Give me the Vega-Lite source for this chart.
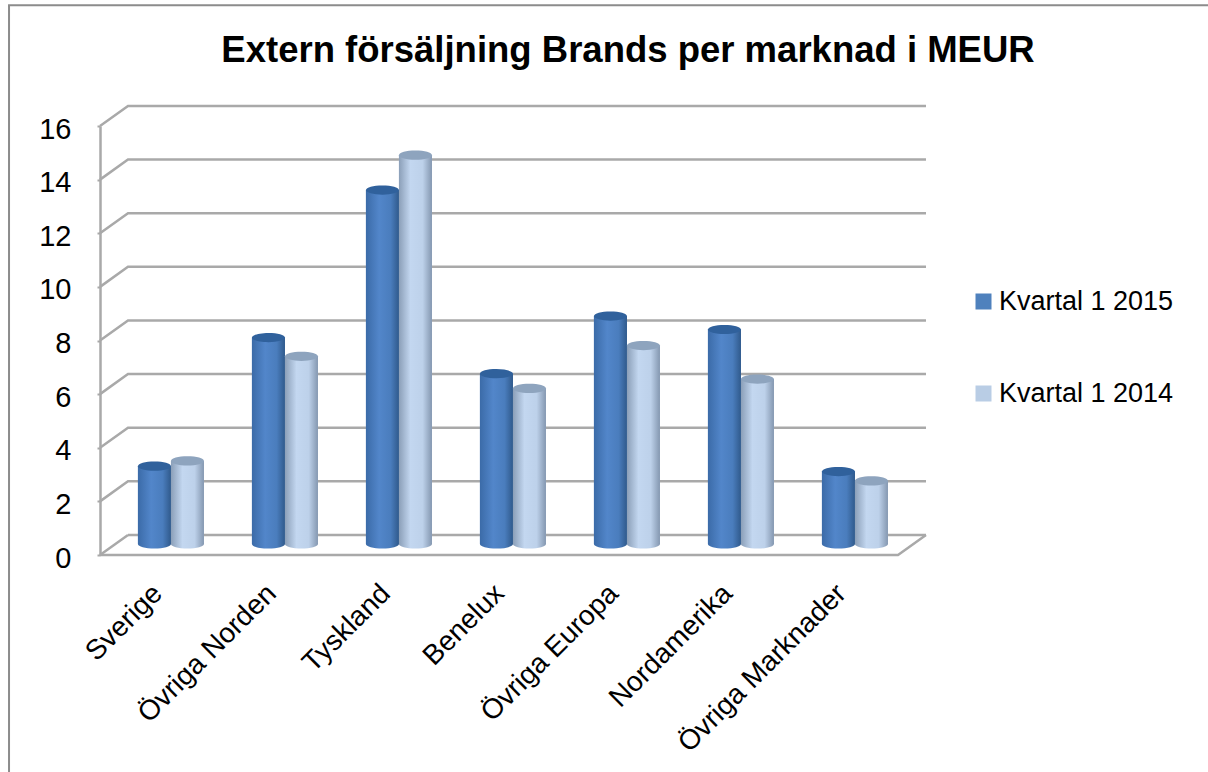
{
"$schema":"https://vega.github.io/schema/vega-lite/v6.json",
"width":1208,"height":772,"padding":0,"autosize":{"type":"none"},"background":"white",
"config":{"view":{"stroke":null},"font":"Liberation Sans"},
"title":{"text":"Extern försäljning Brands per marknad i MEUR","font":"Liberation Sans","fontSize":36.5,"fontWeight":"bold","color":"#000000","anchor":"middle","orient":"top","offset":-98,"dx":24,"baseline":"alphabetic","limit":1100},
"datasets":{
"sales":[
{"market":"Sverige","series":"Kvartal 1 2015","value":2.9},{"market":"Sverige","series":"Kvartal 1 2014","value":3.1},
{"market":"Övriga Norden","series":"Kvartal 1 2015","value":7.7},{"market":"Övriga Norden","series":"Kvartal 1 2014","value":7.0},
{"market":"Tyskland","series":"Kvartal 1 2015","value":13.2},{"market":"Tyskland","series":"Kvartal 1 2014","value":14.5},
{"market":"Benelux","series":"Kvartal 1 2015","value":6.35},{"market":"Benelux","series":"Kvartal 1 2014","value":5.8},
{"market":"Övriga Europa","series":"Kvartal 1 2015","value":8.5},{"market":"Övriga Europa","series":"Kvartal 1 2014","value":7.4},
{"market":"Nordamerika","series":"Kvartal 1 2015","value":8.0},{"market":"Nordamerika","series":"Kvartal 1 2014","value":6.15},
{"market":"Övriga Marknader","series":"Kvartal 1 2015","value":2.7},{"market":"Övriga Marknader","series":"Kvartal 1 2014","value":2.35}],
"structure":[
{"path":"floor","along":0,"height":0},{"path":"floor","along":7,"height":0},{"path":"floor","along":7.2456,"height":0.75},
{"path":"g0","along":0.2456,"height":0.75},{"path":"g0","along":0,"height":0},{"path":"g0b","along":0.2456,"height":0.75},{"path":"g0b","along":7.2456,"height":0.75},
{"path":"g2","along":0,"height":2},{"path":"g2","along":0.2456,"height":2.75},{"path":"g2","along":7.2456,"height":2.75},
{"path":"g4","along":0,"height":4},{"path":"g4","along":0.2456,"height":4.75},{"path":"g4","along":7.2456,"height":4.75},
{"path":"g6","along":0,"height":6},{"path":"g6","along":0.2456,"height":6.75},{"path":"g6","along":7.2456,"height":6.75},
{"path":"g8","along":0,"height":8},{"path":"g8","along":0.2456,"height":8.75},{"path":"g8","along":7.2456,"height":8.75},
{"path":"g10","along":0,"height":10},{"path":"g10","along":0.2456,"height":10.75},{"path":"g10","along":7.2456,"height":10.75},
{"path":"g12","along":0,"height":12},{"path":"g12","along":0.2456,"height":12.75},{"path":"g12","along":7.2456,"height":12.75},
{"path":"g14","along":0,"height":14},{"path":"g14","along":0.2456,"height":14.75},{"path":"g14","along":7.2456,"height":14.75},
{"path":"g16","along":0,"height":16},{"path":"g16","along":0.2456,"height":16.75},{"path":"g16","along":7.2456,"height":16.75}],
"frame":[{"order":1,"along":-0.798,"height":-9},{"order":2,"along":-0.798,"height":20.5},{"order":3,"along":9.9,"height":20.5}]
},
"resolve":{"scale":{"x":"independent","y":"independent"}},
"layer":[
{"data":{"name":"structure"},
 "mark":{"type":"line","stroke":"#a9a9a9","strokeWidth":2.5,"clip":false},
 "encoding":{
  "x":{"field":"along","type":"quantitative","axis":null,"scale":{"domain":[0,7],"range":[100,898],"clamp":false,"nice":false,"zero":false}},
  "y":{"field":"height","type":"quantitative","scale":{"domain":[0,16],"range":[555,126],"nice":false,"zero":false},
   "axis":{"orient":"left","offset":-100,"title":null,"values":[0,2,4,6,8,10,12,14,16],"grid":false,"domain":true,"domainColor":"#a9a9a9","domainWidth":2.5,"ticks":true,"tickColor":"#a9a9a9","tickWidth":2,"tickSize":3,"labelFont":"Liberation Sans","labelFontSize":29,"labelColor":"#000000","labelPadding":26,"labelOffset":3}},
  "detail":{"field":"path"},
  "order":{"field":"path"}}},
{"data":{"name":"frame"},
 "mark":{"type":"line","stroke":"#8c8c8c","strokeWidth":2,"clip":false},
 "encoding":{
  "x":{"field":"along","type":"quantitative","axis":null,"scale":{"domain":[0,7],"range":[100,898],"nice":false,"zero":false}},
  "y":{"field":"height","type":"quantitative","axis":null,"scale":{"domain":[0,16],"range":[555,126],"nice":false,"zero":false}},
  "order":{"field":"order"}}},
{"data":{"name":"sales"},
 "encoding":{
  "x":{"field":"market","type":"nominal","sort":null,"scale":{"domain":["Sverige","Övriga Norden","Tyskland","Benelux","Övriga Europa","Nordamerika","Övriga Marknader"],"range":[114,912],"paddingInner":0.42,"paddingOuter":0.21},
   "axis":{"orient":"bottom","offset":-183,"title":null,"domain":false,"ticks":false,"labelAngle":-45,"labelAlign":"right","labelBaseline":"middle","labelFont":"Liberation Sans","labelFontSize":28,"labelColor":"#000000","labelPadding":0,"labelOffset":-13,"labelOverlap":false,"labelBound":false,"labelFlush":false,"labelLimit":400}},
  "xOffset":{"field":"series","type":"nominal","sort":null,"scale":{"domain":["Kvartal 1 2015","Kvartal 1 2014"],"range":[0,66]}},
  "y":{"field":"value","type":"quantitative","axis":null,"stack":null,"scale":{"domain":[0,16],"range":[544,115],"nice":false,"zero":false}}},
 "layer":[
 {"mark":{"type":"bar","clip":false},
  "encoding":{"color":{"field":"series","type":"nominal","sort":null,"scale":{"domain":["Kvartal 1 2015","Kvartal 1 2014"],"range":["#4f81bd","#b9cde5"]},
   "legend":{"orient":"none","legendX":970,"legendY":288,"title":null,"symbolType":"square","symbolSize":256,"symbolStrokeWidth":0,"labelFont":"Liberation Sans","labelFontSize":27,"labelColor":"#000000","labelLimit":400,"rowPadding":64,"labelOffset":2,"columns":1}}}},
 {"transform":[{"filter":{"field":"series","equal":"Kvartal 1 2015"}}],
  "mark":{"type":"bar","clip":false,"color":{"gradient":"linear","x1":0,"y1":0,"x2":1,"y2":0,"stops":[{"offset":0,"color":"#3b6ba8"},{"offset":0.4,"color":"#5286ca"},{"offset":0.75,"color":"#4a7dbd"},{"offset":1,"color":"#305a8c"}]}}},
 {"transform":[{"filter":{"field":"series","equal":"Kvartal 1 2015"}}],
  "mark":{"type":"point","filled":true,"opacity":1,"clip":false,"size":1089,"shape":"M-1,0A1,0.28 0 1,1 1,0A1,0.28 0 1,1 -1,0Z","color":{"gradient":"linear","x1":0,"y1":0,"x2":1,"y2":0,"stops":[{"offset":0,"color":"#3b6ba8"},{"offset":0.4,"color":"#5286ca"},{"offset":0.75,"color":"#4a7dbd"},{"offset":1,"color":"#305a8c"}]}},
  "encoding":{"y":{"datum":0,"type":"quantitative","axis":null,"scale":{"domain":[0,16],"range":[544,115],"nice":false,"zero":false}}}},
 {"transform":[{"filter":{"field":"series","equal":"Kvartal 1 2015"}}],
  "mark":{"type":"point","filled":true,"opacity":1,"clip":false,"size":1089,"shape":"M-1,0A1,0.28 0 1,1 1,0A1,0.28 0 1,1 -1,0Z","color":"#30619c"}},
 {"transform":[{"filter":{"field":"series","equal":"Kvartal 1 2014"}}],
  "mark":{"type":"bar","clip":false,"color":{"gradient":"linear","x1":0,"y1":0,"x2":1,"y2":0,"stops":[{"offset":0,"color":"#8b9fb8"},{"offset":0.35,"color":"#c3d7f0"},{"offset":0.72,"color":"#bdd1ea"},{"offset":1,"color":"#8497b0"}]}}},
 {"transform":[{"filter":{"field":"series","equal":"Kvartal 1 2014"}}],
  "mark":{"type":"point","filled":true,"opacity":1,"clip":false,"size":1089,"shape":"M-1,0A1,0.28 0 1,1 1,0A1,0.28 0 1,1 -1,0Z","color":{"gradient":"linear","x1":0,"y1":0,"x2":1,"y2":0,"stops":[{"offset":0,"color":"#8b9fb8"},{"offset":0.35,"color":"#c3d7f0"},{"offset":0.72,"color":"#bdd1ea"},{"offset":1,"color":"#8497b0"}]}},
  "encoding":{"y":{"datum":0,"type":"quantitative","axis":null,"scale":{"domain":[0,16],"range":[544,115],"nice":false,"zero":false}}}},
 {"transform":[{"filter":{"field":"series","equal":"Kvartal 1 2014"}}],
  "mark":{"type":"point","filled":true,"opacity":1,"clip":false,"size":1089,"shape":"M-1,0A1,0.28 0 1,1 1,0A1,0.28 0 1,1 -1,0Z","color":"#8ea4be"}}
 ]}
]
}
